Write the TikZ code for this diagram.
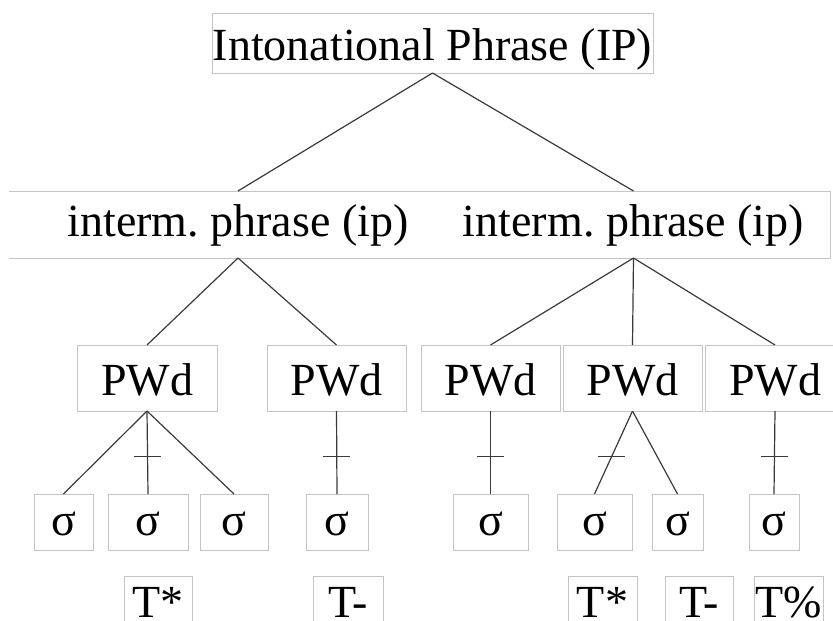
\documentclass[tikz,border=0pt]{standalone}
\usepackage{fontspec}
\setmainfont{Liberation Serif}
\usetikzlibrary{calc}
\frenchspacing
\definecolor{boxgray}{HTML}{C4C4C4}
\definecolor{linegray}{HTML}{3A3A3A}
\tikzset{
  lbl/.style={font=\fontsize{46}{55}\selectfont\frenchspacing, inner sep=0pt, outer sep=0pt, text depth=0pt, anchor=center},
  box/.style={lbl, draw=boxgray, line width=1pt},
  conn/.style={draw=linegray, line width=1.2pt},
  tick/.style={draw=linegray, line width=1.2pt},
}
\begin{document}
\begin{tikzpicture}[x=1pt,y=-1pt]
\useasboundingbox (0,0) rectangle (833,621);
\clip (0,0) rectangle (833,621);
% top
\node[box, minimum width=441pt, minimum height=60pt, text height=34pt] (IP) at (432.5,43) {Intonational Phrase (IP)};
% intermediate phrases
\node[lbl, minimum width=458pt, minimum height=67pt, text height=23pt] (ipL) at (238,224.5) {interm. phrase (ip)};
\node[lbl, minimum width=393pt, minimum height=67pt, text height=23pt] (ipR) at (633.5,224.5) {interm. phrase (ip)};
\draw[draw=boxgray, line width=1pt] (ipL.north west) -- (ipR.north east) -- (ipR.south east) -- (ipL.south west);
% prosodic words
\node[box, minimum width=140pt, minimum height=66pt, text height=34pt] (w1) at (147,378) {PWd};
\node[box, minimum width=139pt, minimum height=66pt, text height=34pt] (w2) at (336.5,378) {PWd};
\node[box, minimum width=139pt, minimum height=66pt, text height=34pt] (w3) at (490.5,378) {PWd};
\node[box, minimum width=139pt, minimum height=66pt, text height=34pt] (w4) at (632.5,378) {PWd};
\node[box, minimum width=140pt, minimum height=66pt, text height=34pt] (w5) at (775,378) {PWd};
% syllables
\node[box, minimum width=59pt, minimum height=56pt, text height=26pt] (s1) at (63.5,522) {σ};
\node[box, minimum width=80pt, minimum height=56pt, text height=26pt] (s2) at (148,522) {σ};
\node[box, minimum width=68pt, minimum height=56pt, text height=26pt] (s3) at (234,522) {σ};
\node[box, minimum width=62pt, minimum height=56pt, text height=26pt] (s4) at (337,522) {σ};
\node[box, minimum width=75pt, minimum height=56pt, text height=26pt] (s5) at (490.5,522) {σ};
\node[box, minimum width=75pt, minimum height=56pt, text height=26pt] (s6) at (594.5,522) {σ};
\node[box, minimum width=51pt, minimum height=56pt, text height=26pt] (s7) at (677.5,522) {σ};
\node[box, minimum width=50pt, minimum height=56pt, text height=26pt] (s8) at (774,522) {σ};
% tones
\node[box, minimum width=68pt, minimum height=56pt, text height=27pt] (t1) at (158,604) {T*};
\node[box, minimum width=70pt, minimum height=56pt, text height=27pt] (t2) at (348,604) {T-};
\node[box, minimum width=69pt, minimum height=56pt, text height=27pt] (t3) at (602.5,604) {T*};
\node[box, minimum width=68pt, minimum height=56pt, text height=27pt] (t4) at (699,604) {T-};
\node[box, minimum width=69pt, minimum height=56pt, text height=27pt] (t5) at (788.5,604) {T\%};
% connectors
\draw[conn] (IP.south) -- (ipL.north);
\draw[conn] (IP.south) -- (ipR.north);
\draw[conn] (ipL.south) -- (w1.north);
\draw[conn] (ipL.south) -- (w2.north);
\draw[conn] (ipR.south) -- (w3.north);
\draw[conn] (ipR.south) -- (w4.north);
\draw[conn] (ipR.south) -- (w5.north);
\draw[conn] (w1.south) -- (s1.north);
\draw[conn] (w1.south) -- (s2.north);
\draw[conn] (w1.south) -- (s3.north);
\draw[conn] (w2.south) -- (s4.north);
\draw[conn] (w3.south) -- (s5.north);
\draw[conn] (w4.south) -- (s6.north);
\draw[conn] (w4.south) -- (s7.north);
\draw[conn] (w5.south) -- (s8.north);
% stress ticks
\foreach \a/\b in {w1/s2, w2/s4, w3/s5, w4/s6, w5/s8}{
  \draw[tick] ($(\a.south)!0.55!(\b.north)$) +(-13.5,0) -- +(13.5,0);
}
\end{tikzpicture}
\end{document}
